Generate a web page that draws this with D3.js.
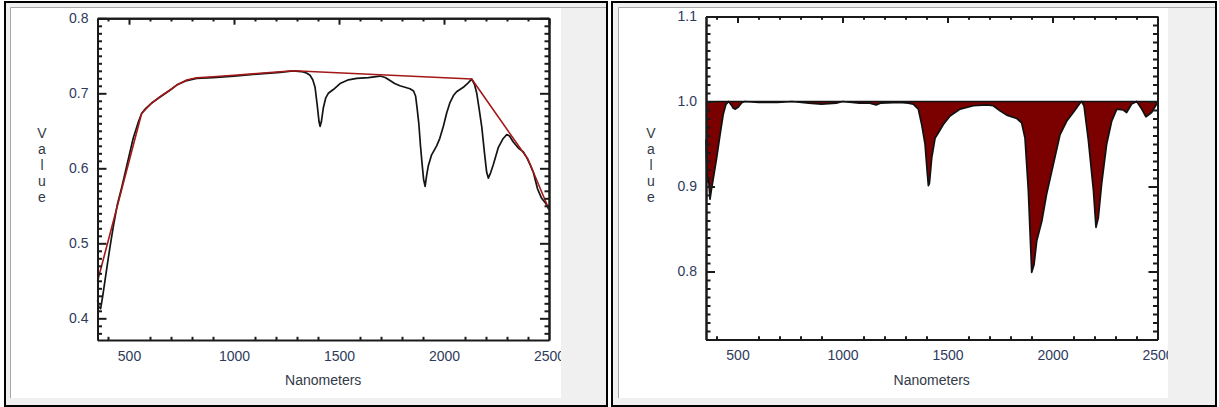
<!DOCTYPE html>
<html>
<head>
<meta charset="utf-8">
<script src="https://cdn.jsdelivr.net/npm/d3@7/dist/d3.min.js"></script>
<style>
  html, body { margin: 0; padding: 0; background: #ffffff; }
  svg { display: block; }
  .tick text { font-family: "Liberation Sans", Arial, sans-serif; }
</style>
</head>
<body>
<svg id="chart" width="1219" height="407"></svg>
<script>
// Reflectance spectrum (nm, value)
const spectrumNm = [350, 357, 365, 375, 386, 398, 410, 425, 444, 465, 490, 520, 545, 560, 580, 608, 648, 695, 727, 775, 822, 900, 1000, 1124, 1219, 1282, 1320, 1345, 1362, 1375, 1386, 1396, 1405, 1410, 1416, 1425, 1437, 1449, 1473, 1505, 1545, 1584, 1640, 1695, 1720, 1743, 1765, 1790, 1838, 1855, 1865, 1872, 1880, 1888, 1896, 1903, 1910, 1917, 1925, 1941, 1965, 1980, 1997, 2013, 2029, 2045, 2060, 2092, 2115, 2132, 2145, 2156, 2168, 2180, 2193, 2203, 2211, 2222, 2235, 2259, 2280, 2299, 2312, 2330, 2354, 2378, 2395, 2410, 2425, 2445, 2465, 2485, 2500];
const spectrumValue = [0.424, 0.415, 0.413, 0.430, 0.451, 0.474, 0.496, 0.522, 0.551, 0.574, 0.604, 0.640, 0.662, 0.673, 0.680, 0.687, 0.695, 0.704, 0.711, 0.717, 0.720, 0.721, 0.723, 0.726, 0.728, 0.730, 0.729, 0.727, 0.724, 0.718, 0.708, 0.685, 0.662, 0.656, 0.662, 0.680, 0.694, 0.700, 0.705, 0.713, 0.718, 0.720, 0.721, 0.723, 0.721, 0.717, 0.713, 0.710, 0.706, 0.703, 0.696, 0.680, 0.660, 0.630, 0.605, 0.585, 0.576, 0.590, 0.603, 0.618, 0.630, 0.640, 0.656, 0.674, 0.688, 0.697, 0.702, 0.708, 0.714, 0.719, 0.712, 0.700, 0.678, 0.655, 0.620, 0.595, 0.587, 0.594, 0.605, 0.628, 0.639, 0.645, 0.643, 0.635, 0.627, 0.622, 0.614, 0.605, 0.595, 0.573, 0.560, 0.553, 0.545];

// Continuum hull vertices
const hullNm = [350, 560, 608, 648, 695, 727, 775, 822, 900, 1000, 1124, 1219, 1285, 2132, 2400, 2500];
const hullValue = [0.449, 0.673, 0.687, 0.6955, 0.7044, 0.711, 0.7177, 0.7208, 0.722, 0.724, 0.7267, 0.7288, 0.730, 0.719, 0.612, 0.545];

// Continuum-removed spectrum
const removedNm = [350, 353, 358, 362, 369, 377, 385, 401, 417, 432, 445, 458, 470, 480, 490, 504, 520, 535, 600, 690, 760, 840, 900, 970, 1000, 1080, 1130, 1160, 1180, 1274, 1313, 1337, 1361, 1377, 1393, 1404, 1409, 1414, 1420, 1425, 1441, 1456, 1480, 1512, 1560, 1623, 1687, 1718, 1750, 1782, 1830, 1853, 1869, 1885, 1901, 1912, 1925, 1949, 1972, 2004, 2036, 2068, 2099, 2128, 2139, 2150, 2171, 2195, 2207, 2218, 2234, 2258, 2282, 2306, 2337, 2353, 2377, 2401, 2425, 2445, 2472, 2496, 2500];
const removedValue = [0.955, 0.930, 0.905, 0.910, 0.885, 0.898, 0.910, 0.934, 0.961, 0.985, 0.9967, 1.0, 0.996, 0.992, 0.991, 0.9935, 0.9986, 1.0, 0.999, 0.999, 1.0, 0.998, 0.997, 0.998, 1.0, 0.998, 0.998, 0.996, 0.998, 0.999, 0.998, 0.997, 0.991, 0.973, 0.950, 0.915, 0.901, 0.904, 0.920, 0.934, 0.957, 0.963, 0.973, 0.983, 0.991, 0.995, 0.996, 0.995, 0.989, 0.984, 0.980, 0.975, 0.957, 0.895, 0.799, 0.808, 0.836, 0.859, 0.891, 0.926, 0.961, 0.977, 0.987, 0.997, 1.0, 0.995, 0.954, 0.895, 0.852, 0.863, 0.903, 0.950, 0.977, 0.991, 0.990, 0.987, 0.997, 1.0, 0.991, 0.982, 0.987, 0.997, 1.0];

// Axis ticks
const xMajorTicks = [500, 1000, 1500, 2000, 2500];
const xMinorTicks = d3.range(400, 2500, 100).filter(v => v % 500 !== 0);
const leftMajorTicks = [0.4, 0.5, 0.6, 0.7, 0.8];
const rightMajorTicks = [0.8, 0.9, 1.0, 1.1];

const svg = d3.select("#chart");
const TICK_FONT = '"Liberation Sans", Arial, sans-serif';

// Window-style frame around each panel
function drawFrame(g, f) {
  g.append("rect").attr("x", f.x0).attr("y", f.y0)
    .attr("width", f.x1 - f.x0).attr("height", f.y1 - f.y0)
    .attr("fill", "#f0f0f0").attr("stroke", "#000").attr("stroke-width", 2);
  g.append("rect").attr("x", f.wx0).attr("y", f.wy0)
    .attr("width", f.wx1 - f.wx0).attr("height", f.wy1 - f.wy0)
    .attr("fill", "#ffffff");
  g.append("path")
    .attr("d", `M${f.wx0 - 0.5},${f.wy1}V${f.wy0 - 0.5}H${f.x1 - 1}`)
    .attr("fill", "none").attr("stroke", "#a8a8a8").attr("stroke-width", 1);
}

function minorY(domain) {
  const out = [];
  const lo = Math.ceil(domain[0] * 100 - 1e-6), hi = Math.floor(domain[1] * 100 + 1e-6);
  for (let i = lo; i <= hi; i++) if (i % 10 !== 0) out.push(i / 100);
  return out;
}

function styleAxis(sel) {
  sel.selectAll("path.domain").attr("stroke", "#1a1a1a").attr("stroke-width", 2);
  sel.selectAll(".tick line").attr("stroke", "#1a1a1a").attr("stroke-width", 2);
  sel.selectAll(".tick text")
    .attr("fill", "#2e3a5c")
    .style("font-family", TICK_FONT)
    .style("font-size", "14px");
}

function drawAxes(g, p, x, y, yMajor, yFormat) {
  const [xl, xr] = x.range();
  const [yb, yt] = y.range();
  const xs = 6.4, ys = 9;
  const yMinor = minorY(y.domain());

  // minor ticks
  g.append("g").attr("transform", `translate(0,${yb})`)
    .call(d3.axisBottom(x).tickValues(xMinorTicks).tickSizeInner(-xs / 2).tickSizeOuter(0).tickFormat(""))
    .call(styleAxis);
  g.append("g").attr("transform", `translate(0,${yt})`)
    .call(d3.axisTop(x).tickValues(xMinorTicks).tickSizeInner(-xs / 2).tickSizeOuter(0).tickFormat(""))
    .call(styleAxis);
  g.append("g").attr("transform", `translate(${xl},0)`)
    .call(d3.axisLeft(y).tickValues(yMinor).tickSizeInner(-ys / 2).tickSizeOuter(0).tickFormat(""))
    .call(styleAxis);
  g.append("g").attr("transform", `translate(${xr},0)`)
    .call(d3.axisRight(y).tickValues(yMinor).tickSizeInner(-ys / 2).tickSizeOuter(0).tickFormat(""))
    .call(styleAxis);

  // major ticks with labels
  g.append("g").attr("transform", `translate(0,${yb})`)
    .attr("clip-path", `url(#${p.clipId})`)
    .call(d3.axisBottom(x).tickValues(xMajorTicks).tickSizeInner(-xs).tickSizeOuter(0).tickPadding(11).tickFormat(d3.format("d")))
    .call(styleAxis);
  g.append("g").attr("transform", `translate(0,${yt})`)
    .call(d3.axisTop(x).tickValues(xMajorTicks).tickSizeInner(-xs).tickSizeOuter(0).tickFormat(""))
    .call(styleAxis);
  g.append("g").attr("transform", `translate(${xl},0)`)
    .call(d3.axisLeft(y).tickValues(yMajor).tickSizeInner(-ys).tickSizeOuter(0).tickPadding(9).tickFormat(yFormat))
    .call(styleAxis);
  g.append("g").attr("transform", `translate(${xr},0)`)
    .call(d3.axisRight(y).tickValues(yMajor).tickSizeInner(-ys).tickSizeOuter(0).tickFormat(""))
    .call(styleAxis);

  // axis titles
  g.append("text")
    .attr("x", (xl + xr) / 2).attr("y", p.titleY)
    .attr("text-anchor", "middle")
    .attr("fill", "#333a48")
    .style("font-family", TICK_FONT).style("font-size", "14px")
    .text("Nanometers");
  const letters = "Value".split("");
  g.append("g").selectAll("text").data(letters).join("text")
    .attr("x", p.valueX).attr("y", (d, i) => p.valueY + i * 16)
    .attr("text-anchor", "middle")
    .attr("fill", "#333a48")
    .style("font-family", TICK_FONT).style("font-size", "14px")
    .text(d => d);
}

const defs = svg.append("defs");

// ---------- Left panel: spectrum with continuum ----------
const leftFrame = { x0: 5, y0: 2, x1: 607, y1: 406, wx0: 11, wy0: 8, wx1: 561, wy1: 398 };
const left = svg.append("g");
drawFrame(left, leftFrame);
defs.append("clipPath").attr("id", "clipL").append("rect")
  .attr("x", leftFrame.wx0).attr("y", leftFrame.wy0)
  .attr("width", leftFrame.wx1 - leftFrame.wx0).attr("height", leftFrame.wy1 - leftFrame.wy0);

const xL = d3.scaleLinear().domain([350, 2500]).range([97.5, 549]);
const yL = d3.scaleLinear().domain([0.3711, 0.8]).range([340, 18.3]);

const plotL = left.append("g");
plotL.append("path")
  .datum(d3.zip(spectrumNm, spectrumValue))
  .attr("fill", "none").attr("stroke", "#141414").attr("stroke-width", 1.7)
  .attr("stroke-linejoin", "round")
  .attr("d", d3.line().x(d => xL(d[0])).y(d => yL(d[1])));
plotL.append("path")
  .datum(d3.zip(hullNm, hullValue))
  .attr("fill", "none").attr("stroke", "#a31818").attr("stroke-width", 1.6)
  .attr("stroke-linejoin", "round")
  .attr("d", d3.line().x(d => xL(d[0])).y(d => yL(d[1])));

drawAxes(left, { clipId: "clipL", titleY: 385, valueX: 42, valueY: 138 }, xL, yL, leftMajorTicks, d3.format(".1f"));

// ---------- Right panel: continuum-removed ----------
const rightFrame = { x0: 612, y0: 2, x1: 1216, y1: 406, wx0: 619, wy0: 8, wx1: 1168, wy1: 398 };
const right = svg.append("g");
drawFrame(right, rightFrame);
defs.append("clipPath").attr("id", "clipR").append("rect")
  .attr("x", rightFrame.wx0).attr("y", rightFrame.wy0)
  .attr("width", rightFrame.wx1 - rightFrame.wx0).attr("height", rightFrame.wy1 - rightFrame.wy0);

const xR = d3.scaleLinear().domain([350, 2500]).range([706, 1157.5]);
const yR = d3.scaleLinear().domain([0.72, 1.1]).range([339.5, 16.5]);

const removed = d3.zip(removedNm, removedValue);
const plotR = right.append("g");
plotR.append("path")
  .datum(removed)
  .attr("fill", "#7b0000")
  .attr("d", d3.area().x(d => xR(d[0])).y0(yR(1.0)).y1(d => yR(d[1])));
plotR.append("path")
  .datum(removed)
  .attr("fill", "none").attr("stroke", "#111").attr("stroke-width", 1.7)
  .attr("stroke-linejoin", "round")
  .attr("d", d3.line().x(d => xR(d[0])).y(d => yR(d[1])));
plotR.append("line")
  .attr("x1", xR(350)).attr("x2", xR(2500))
  .attr("y1", yR(1.0)).attr("y2", yR(1.0))
  .attr("stroke", "#111").attr("stroke-width", 1.6);

drawAxes(right, { clipId: "clipR", titleY: 385, valueX: 651, valueY: 138 }, xR, yR, rightMajorTicks, d3.format(".1f"));
</script>
</body>
</html>
